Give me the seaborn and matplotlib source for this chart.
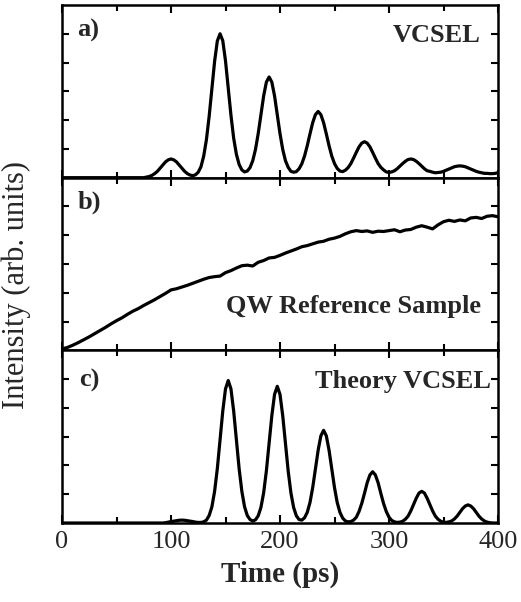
import numpy as np
import pandas as pd
import matplotlib
matplotlib.use("Agg")
import matplotlib.pyplot as plt
from matplotlib.ticker import MultipleLocator, NullFormatter
import seaborn as sns

# ---------------- data ----------------
# panel a: measured VCSEL emission, sampled every 2.5 ps from 80 ps
vcsel_time = [0, 75] + list(np.arange(80, 400.1, 2.5))
vcsel_int = [0.0, 0.0,
    0.04, 0.08, 0.14, 0.22, 0.33, 0.44, 0.55, 0.62, 0.65, 0.62,   # 80-102.5
    0.55, 0.44, 0.33, 0.22, 0.14, 0.09, 0.07, 0.10, 0.19, 0.38,   # 105-127.5
    0.75, 1.32, 2.13, 3.09, 4.04, 4.75, 5.00, 4.76, 4.06, 3.12,   # 130-152.5
    2.17, 1.37, 0.81, 0.46, 0.27, 0.20, 0.23, 0.35, 0.59, 0.98,   # 155-177.5
    1.53, 2.19, 2.84, 3.32, 3.50, 3.32, 2.84, 2.19, 1.53, 0.98,   # 180-202.5
    0.59, 0.36, 0.22, 0.19, 0.21, 0.31, 0.48, 0.75, 1.11, 1.52,   # 205-227.5
    1.91, 2.19, 2.30, 2.19, 1.91, 1.52, 1.11, 0.75, 0.49, 0.32,   # 230-252.5
    0.23, 0.21, 0.26, 0.35, 0.49, 0.68, 0.88, 1.07, 1.20, 1.25,   # 255-277.5
    1.20, 1.07, 0.88, 0.68, 0.49, 0.36, 0.27, 0.20, 0.18, 0.20,   # 280-302.5
    0.24, 0.31, 0.40, 0.49, 0.57, 0.63, 0.65, 0.63, 0.57, 0.49,   # 305-327.5
    0.40, 0.31, 0.24, 0.22, 0.19, 0.17, 0.18, 0.19, 0.22, 0.26,   # 330-352.5
    0.30, 0.34, 0.38, 0.40, 0.41, 0.40, 0.38, 0.34, 0.30, 0.26,   # 355-377.5
    0.22, 0.19, 0.17, 0.15, 0.15, 0.14, 0.14, 0.15, 0.17]         # 380-400

# panel b: QW reference sample, every 5 ps
ref_time = list(np.arange(0, 400.1, 5))
ref_int = [0.05, 0.10, 0.18, 0.27, 0.37, 0.47, 0.58, 0.69, 0.80, 0.92,
           1.03, 1.13, 1.25, 1.36, 1.45, 1.56, 1.66, 1.76, 1.87, 1.98,
           2.10, 2.14, 2.20, 2.26, 2.33, 2.40, 2.47, 2.53, 2.56, 2.58,
           2.70, 2.77, 2.86, 2.94, 2.96, 2.93, 3.06, 3.12, 3.21, 3.23,
           3.30, 3.38, 3.45, 3.52, 3.60, 3.64, 3.70, 3.76, 3.79, 3.86,
           3.90, 3.96, 4.05, 4.12, 4.16, 4.13, 4.15, 4.10, 4.14, 4.13,
           4.16, 4.19, 4.12, 4.18, 4.20, 4.28, 4.33, 4.28, 4.22, 4.36,
           4.47, 4.52, 4.48, 4.53, 4.50, 4.60, 4.62, 4.58, 4.66, 4.68,
           4.64]

# panel c: theory VCSEL, every 2.5 ps from 80 ps
theory_time = [0, 75] + list(np.arange(80, 400.1, 2.5))
theory_int = [0.0, 0.0,
    0.00, 0.00, 0.00, 0.00, 0.00, 0.00, 0.01, 0.03, 0.05, 0.064,  # 80-102.5
    0.08, 0.095, 0.10, 0.095, 0.08, 0.064, 0.05, 0.03, 0.02, 0.02, # 105-127.5
    0.04, 0.10, 0.26, 0.56, 1.10, 1.89, 2.88, 3.89, 4.66, 4.95,   # 130-152.5
    4.66, 3.89, 2.88, 1.89, 1.10, 0.56, 0.26, 0.12, 0.07, 0.11,   # 155-177.5
    0.25, 0.54, 1.05, 1.81, 2.76, 3.73, 4.47, 4.75, 4.47, 3.73,   # 180-202.5
    2.76, 1.81, 1.05, 0.54, 0.25, 0.12, 0.10, 0.18, 0.37, 0.71,   # 205-227.5
    1.23, 1.87, 2.53, 3.03, 3.22, 3.03, 2.53, 1.87, 1.23, 0.71,   # 230-252.5
    0.37, 0.17, 0.07, 0.04, 0.05, 0.10, 0.20, 0.40, 0.68, 1.03,   # 255-277.5
    1.40, 1.67, 1.78, 1.67, 1.40, 1.03, 0.68, 0.40, 0.20, 0.09,   # 280-302.5
    0.04, 0.02, 0.03, 0.06, 0.13, 0.24, 0.42, 0.64, 0.86, 1.04,   # 305-327.5
    1.10, 1.04, 0.86, 0.64, 0.42, 0.24, 0.13, 0.06, 0.03, 0.02,   # 330-352.5
    0.04, 0.07, 0.14, 0.24, 0.37, 0.50, 0.59, 0.63, 0.59, 0.50,   # 355-377.5
    0.37, 0.24, 0.14, 0.07, 0.03, 0.01, 0.00, 0.00, 0.00]         # 380-400

panel_tags = ["a)", "b)", "c)"]
panel_names = ["VCSEL", "QW Reference Sample", "Theory VCSEL"]
x_ticks = [0, 100, 200, 300, 400]
x_label = "Time (ps)"
y_label = "Intensity (arb. units)"

# ---------------- style ----------------
sns.set_theme(style="ticks")
plt.rcParams["font.family"] = ["Liberation Serif", "DejaVu Serif"]
plt.rcParams["axes.linewidth"] = 1.8
plt.rcParams["mathtext.default"] = "regular"

fig, axes = plt.subplots(3, 1, figsize=(5.21, 6.02), dpi=100, sharex=True,
                         gridspec_kw=dict(hspace=0))
fig.subplots_adjust(left=62 / 521, right=498 / 521, top=1 - 5 / 602,
                    bottom=1 - 523 / 602)

series = [
    pd.DataFrame({"t": vcsel_time, "I": vcsel_int}),
    pd.DataFrame({"t": ref_time, "I": ref_int}),
    pd.DataFrame({"t": theory_time, "I": theory_int}),
]

tag_pos = [(0.034, 0.82), (0.036, 0.82), (0.040, 0.79)]
name_pos = [(0.961, 0.785), (0.961, 0.214), (0.985, 0.78)]

for i, ax in enumerate(axes):
    sns.lineplot(data=series[i], x="t", y="I", ax=ax, color="black",
                 lw=2.3, estimator=None, sort=False)
    ax.set_xlim(0, 400)
    ax.set_ylim(0, 6)
    ax.set_xticks(x_ticks)
    ax.xaxis.set_minor_locator(MultipleLocator(50))
    ax.set_yticks([1, 2, 3, 4, 5])
    ax.yaxis.set_major_formatter(NullFormatter())
    ax.tick_params(axis="both", which="both", direction="in", top=True,
                   right=True, width=1.5, color="black")
    ax.tick_params(axis="x", which="major", length=5.5)
    ax.tick_params(axis="x", which="minor", length=4)
    ax.tick_params(axis="y", which="major", length=5)
    ax.set_xlabel("")
    ax.set_ylabel("")
    for sp in ax.spines.values():
        sp.set_color("black")
    ax.text(*tag_pos[i], panel_tags[i], transform=ax.transAxes, ha="left",
            va="baseline", fontsize=19, fontweight="bold")
    ax.text(*name_pos[i], panel_names[i], transform=ax.transAxes, ha="right",
            va="baseline", fontsize=19, fontweight="bold")

axes[2].tick_params(axis="x", labelsize=19, pad=6)
axes[2].set_xlabel(x_label, fontsize=21, fontweight="bold", labelpad=5)
fig.text(0.031, 1 - 285 / 602, y_label, rotation=90,
         ha="center", va="center", fontsize=22)

fig.savefig("out.png", dpi=100, facecolor="white")
